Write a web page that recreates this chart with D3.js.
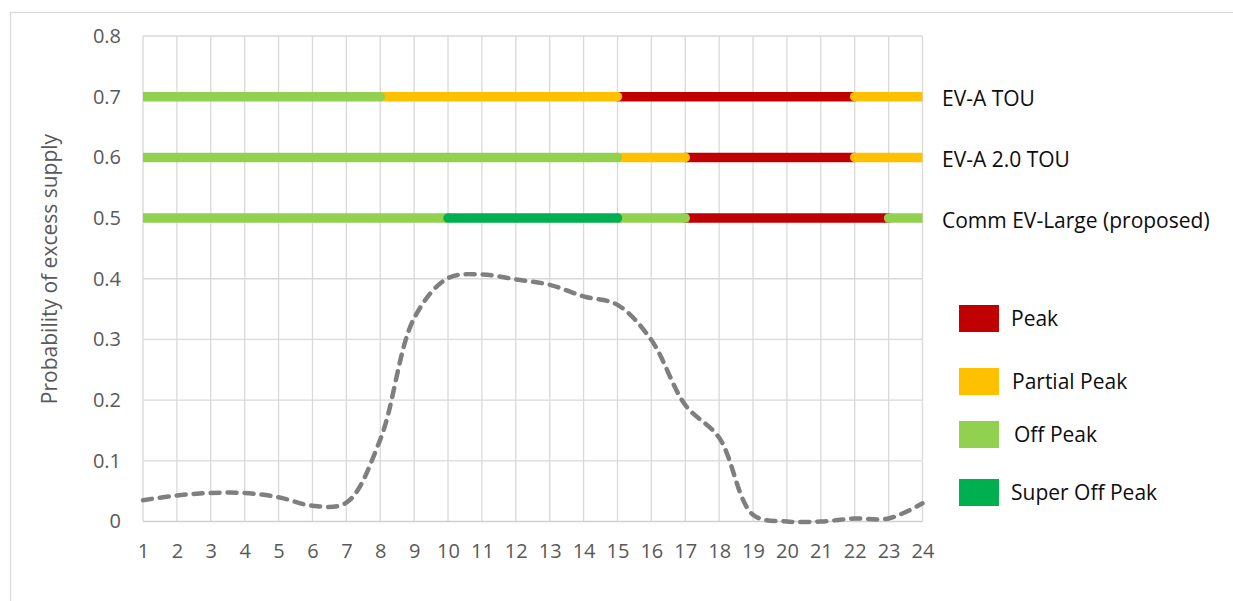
<!DOCTYPE html>
<html>
<head>
<meta charset="utf-8">
<script src="https://cdn.jsdelivr.net/npm/d3@7/dist/d3.min.js"></script>
<style>
  html, body { margin: 0; padding: 0; background: #fff; }
  svg { display: block; font-family: "Open Sans", Lato, sans-serif; }
</style>
</head>
<body>
<svg id="chart" width="1233" height="601"></svg>
<script>
// Hours of the day (x axis)
const hours = d3.range(1, 25);

// Probability of excess supply by hour
const excessSupply = [0.035, 0.043, 0.047, 0.047, 0.040, 0.026, 0.031, 0.135,
                      0.335, 0.401, 0.407, 0.399, 0.390, 0.371, 0.357, 0.299,
                      0.192, 0.138, 0.011, 0.000, 0.000, 0.005, 0.005, 0.030];

const yTicks = [0, 0.1, 0.2, 0.3, 0.4, 0.5, 0.6, 0.7, 0.8];

// Rate periods and their colours
const periods = ["Peak", "Partial Peak", "Off Peak", "Super Off Peak"];
const periodColors = ["#C00000", "#FFC000", "#92D050", "#00B050"];

// TOU rate schedules: name, row value, and [start hour, end hour, period]
const rateNames = ["EV-A TOU", "EV-A 2.0 TOU", "Comm EV-Large (proposed)"];
const rateLevels = [0.7, 0.6, 0.5];
const evATou = [[1, 8, "Off Peak"], [8, 15, "Partial Peak"], [15, 22, "Peak"], [22, 24, "Partial Peak"]];
const evA20Tou = [[1, 15, "Off Peak"], [15, 17, "Partial Peak"], [17, 22, "Peak"], [22, 24, "Partial Peak"]];
const commEvLarge = [[1, 10, "Off Peak"], [10, 15, "Super Off Peak"], [15, 17, "Off Peak"], [17, 23, "Peak"], [23, 24, "Off Peak"]];
const schedules = [evATou, evA20Tou, commEvLarge];

const svg = d3.select("#chart");
const W = 1233, H = 601;
const plot = { left: 143, right: 922.5, top: 36, bottom: 521.5 };
const tickFont = 20;
const labelFont = 21;

// outer chart frame
svg.append("rect")
  .attr("x", 10.5).attr("y", 12.5)
  .attr("width", 1240).attr("height", 620)
  .attr("fill", "#fff").attr("stroke", "#d9d9d9").attr("stroke-width", 1.2);

const x = d3.scaleLinear().domain([1, 24]).range([plot.left, plot.right]);
const y = d3.scaleLinear().domain([0, 0.8]).range([plot.bottom, plot.top]);
const color = d3.scaleOrdinal().domain(periods).range(periodColors);

// gridlines
const grid = svg.append("g");
grid.selectAll("line.v").data(hours).join("line")
  .attr("x1", d => x(d)).attr("x2", d => x(d))
  .attr("y1", plot.top).attr("y2", plot.bottom)
  .attr("stroke", "#d9d9d9").attr("stroke-width", 1.3);
grid.selectAll("line.h").data(yTicks.slice(1)).join("line")
  .attr("x1", plot.left).attr("x2", plot.right)
  .attr("y1", d => y(d)).attr("y2", d => y(d))
  .attr("stroke", "#d9d9d9").attr("stroke-width", 1.3);

// axes (labels only, domain lines hidden)
const xAxis = svg.append("g")
  .attr("transform", `translate(0,${plot.bottom})`)
  .call(d3.axisBottom(x).tickValues(hours).tickFormat(d3.format("d")).tickSize(0).tickPadding(22));
xAxis.select(".domain").remove();
xAxis.selectAll("text").attr("font-size", tickFont).attr("fill", "#595959")
  .attr("font-family", "'Open Sans', sans-serif");

const yAxis = svg.append("g")
  .attr("transform", `translate(${plot.left},0)`)
  .call(d3.axisLeft(y).tickValues(yTicks).tickFormat(d => d === 0 ? "0" : d3.format(".1f")(d)).tickSize(0).tickPadding(22));
yAxis.select(".domain").remove();
yAxis.selectAll("text").attr("font-size", tickFont).attr("fill", "#595959")
  .attr("font-family", "'Open Sans', sans-serif");

// baseline
svg.append("line")
  .attr("x1", plot.left).attr("x2", plot.right)
  .attr("y1", y(0)).attr("y2", y(0))
  .attr("stroke", "#d0d0d0").attr("stroke-width", 1.5);

// y axis title
svg.append("text")
  .attr("transform", `translate(57,269) rotate(-90)`)
  .attr("text-anchor", "middle")
  .attr("font-size", labelFont).attr("fill", "#595959")
  .text("Probability of excess supply");

// clip for the rate bars so the round caps stop at the plot edges
svg.append("clipPath").attr("id", "plotClip")
  .append("rect")
  .attr("x", plot.left).attr("y", 0)
  .attr("width", plot.right - plot.left).attr("height", H);

// TOU bars: draw in period order so lower-priced segments overlap peak ends
const order = { "Peak": 0, "Partial Peak": 1, "Off Peak": 2, "Super Off Peak": 3 };
const segs = [];
schedules.forEach((sched, i) => {
  sched.forEach(s => segs.push({ level: rateLevels[i], start: s[0], end: s[1], period: s[2] }));
});
segs.sort((a, b) => order[a.period] - order[b.period]);

svg.append("g").attr("clip-path", "url(#plotClip)")
  .selectAll("line").data(segs).join("line")
  .attr("x1", d => x(d.start)).attr("x2", d => x(d.end))
  .attr("y1", d => y(d.level)).attr("y2", d => y(d.level))
  .attr("stroke", d => color(d.period))
  .attr("stroke-width", 9.5)
  .attr("stroke-linecap", "round");

// schedule labels
svg.append("g").selectAll("text").data(rateNames).join("text")
  .attr("x", 942)
  .attr("y", (d, i) => y(rateLevels[i]) + 4)
  .attr("dominant-baseline", "middle")
  .attr("font-size", labelFont).attr("fill", "#0d0d0d")
  .text(d => d);

// excess supply curve
const line = d3.line()
  .x((d, i) => x(hours[i]))
  .y(d => y(d))
  .curve(d3.curveCatmullRom.alpha(0.5));
svg.append("path")
  .datum(excessSupply)
  .attr("d", line)
  .attr("fill", "none")
  .attr("stroke", "#7f7f7f")
  .attr("stroke-width", 4.5)
  .attr("stroke-dasharray", "9,8")
  .attr("stroke-linecap", "round");

// legend
const legendY = [305, 368, 421, 479];
const legendTextX = [1011, 1012, 1014, 1011];
const legend = svg.append("g");
periods.forEach((p, i) => {
  legend.append("rect")
    .attr("x", 959).attr("y", legendY[i])
    .attr("width", 40).attr("height", 27)
    .attr("fill", color(p));
  legend.append("text")
    .attr("x", legendTextX[i]).attr("y", legendY[i] + 15)
    .attr("dominant-baseline", "middle")
    .attr("font-size", labelFont).attr("fill", "#0d0d0d")
    .text(p);
});
</script>
</body>
</html>
